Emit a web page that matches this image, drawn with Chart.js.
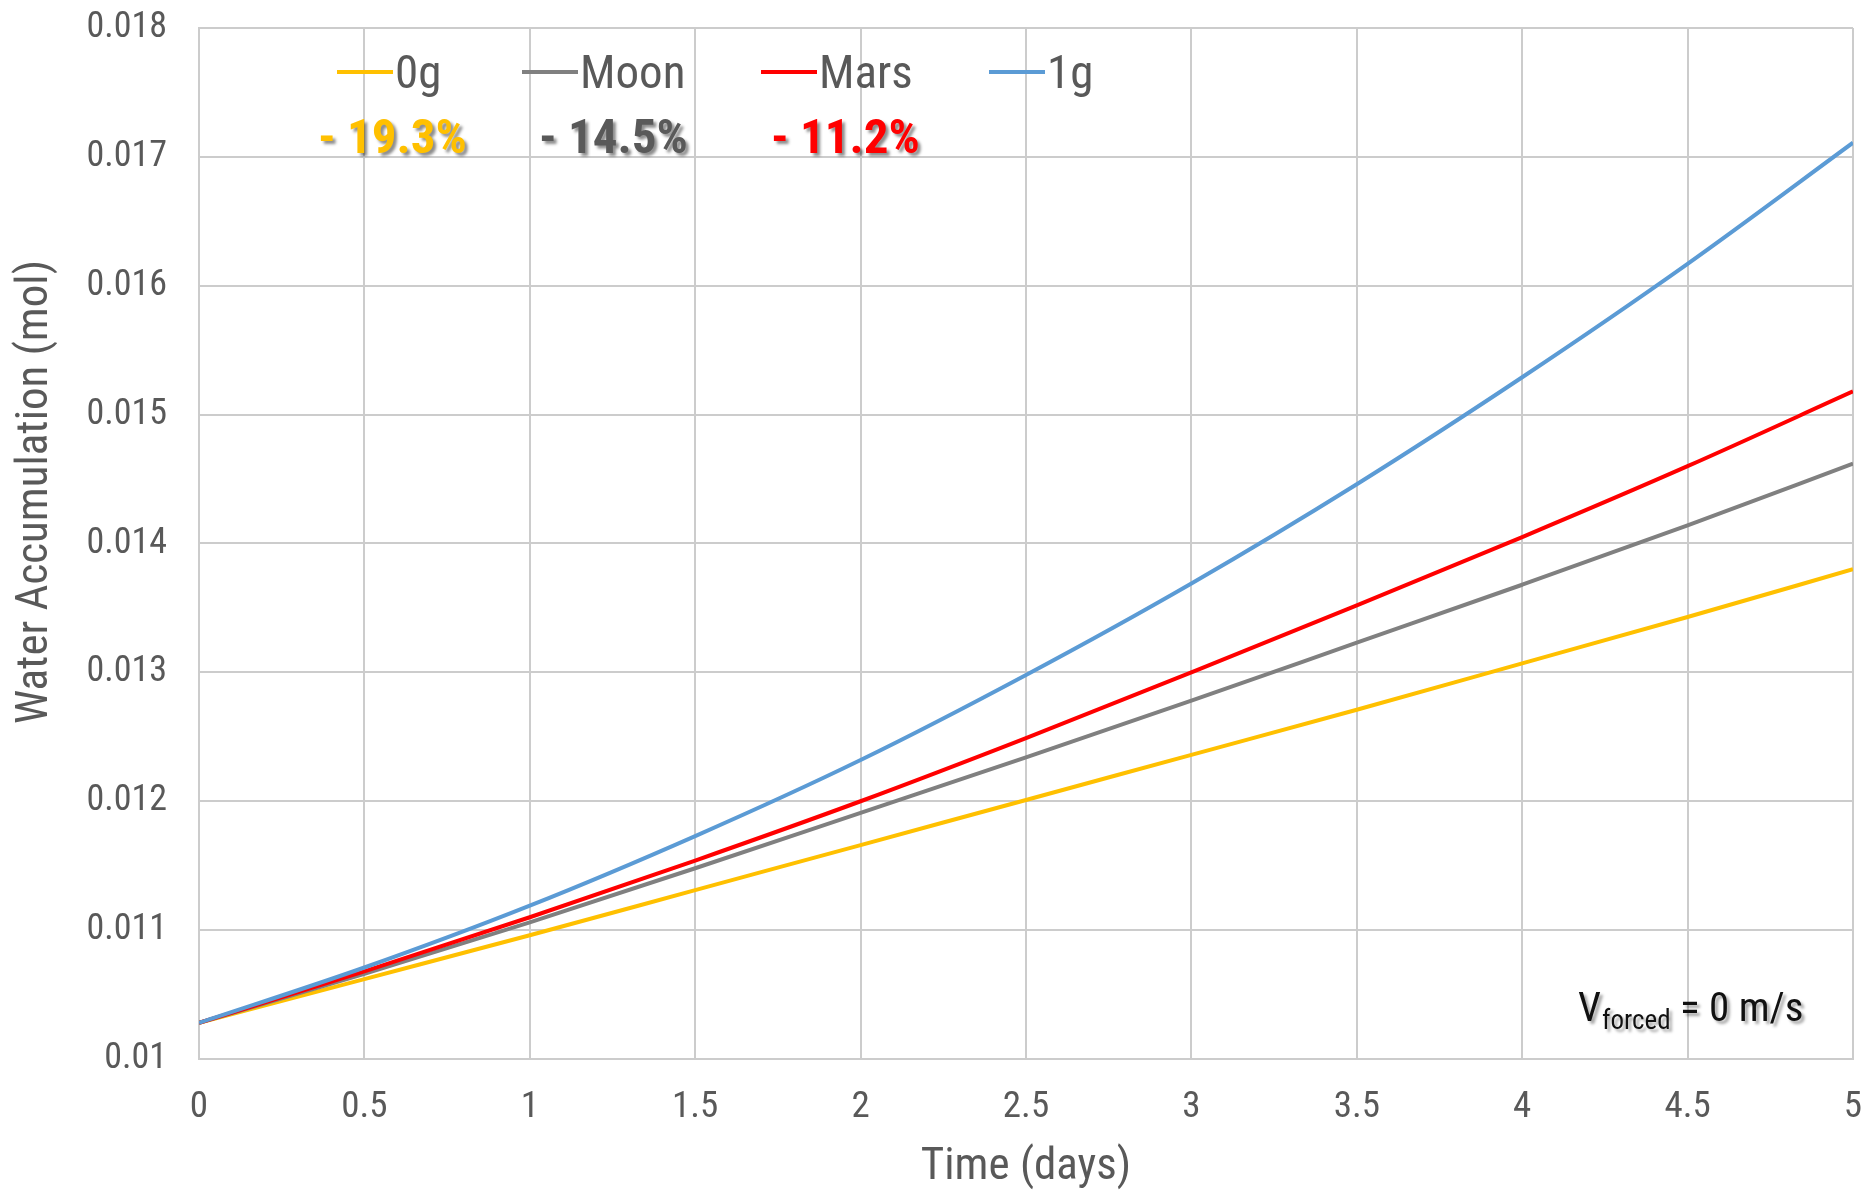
<!DOCTYPE html>
<html><head><meta charset="utf-8">
<script src="https://cdn.jsdelivr.net/npm/chart.js@4.4.0/dist/chart.umd.min.js"></script>
<style>html,body{margin:0;padding:0;background:#fff;}#wrap{width:1872px;height:1191px;position:relative}</style>
</head><body><div id="wrap"><canvas id="c" width="1872" height="1191"></canvas></div>
<script>
// ---- data ----
const days = [0, 0.5, 1, 1.5, 2, 2.5, 3, 3.5, 4, 4.5, 5];
const zeroG = [0.01028, 0.01062, 0.01096, 0.01131, 0.01166, 0.01201, 0.01236, 0.01271, 0.01307, 0.01343, 0.01380];
const moon  = [0.01028, 0.01066, 0.01106, 0.01148, 0.01191, 0.01234, 0.01278, 0.01323, 0.01368, 0.01414, 0.01462];
const mars  = [0.01028, 0.01068, 0.01110, 0.01154, 0.01200, 0.01249, 0.01300, 0.01352, 0.01405, 0.01460, 0.01518];
const oneG  = [0.01028, 0.01071, 0.01119, 0.01173, 0.01232, 0.01298, 0.01369, 0.01446, 0.01529, 0.01617, 0.01711];
const seriesNames = ['0g', 'Moon', 'Mars', '1g'];
const seriesColors = ['#FFC000', '#808080', '#FF0000', '#5B9BD5'];
const reductionLabels = ['- 19.3%', '- 14.5%', '- 11.2%'];
const reductionColors = ['#FFC000', '#595959', '#FF0000'];
const xTickValues = [0, 0.5, 1, 1.5, 2, 2.5, 3, 3.5, 4, 4.5, 5];
const xTickLabels = ['0', '0.5', '1', '1.5', '2', '2.5', '3', '3.5', '4', '4.5', '5'];
const yTickValues = [0.010, 0.011, 0.012, 0.013, 0.014, 0.015, 0.016, 0.017, 0.018];
const yTickLabels = ['0.01', '0.011', '0.012', '0.013', '0.014', '0.015', '0.016', '0.017', '0.018'];
const xTitle = 'Time (days)';
const yTitle = 'Water Accumulation (mol)';

const FONT = '"Roboto Condensed","Liberation Sans Narrow","DejaVu Sans Condensed",sans-serif';
const TXT = '#595959';
const GRID = '#cccccc';

const allSeries = [zeroG, moon, mars, oneG];
const datasets = allSeries.map((vals, i) => ({
  label: seriesNames[i],
  data: days.map((d, k) => ({x: d, y: vals[k]})),
  borderColor: seriesColors[i],
  backgroundColor: seriesColors[i],
  borderWidth: 4,
  pointRadius: 0,
  cubicInterpolationMode: 'monotone',
  order: 3 - i
}));

const overlay = {
  id: 'overlay',
  afterDraw(chart) {
    const ctx = chart.ctx;
    ctx.save();
    // y-axis title
    ctx.save();
    ctx.translate(36, 492);
    ctx.rotate(-Math.PI / 2);
    ctx.font = '45px ' + FONT;
    ctx.fillStyle = TXT;
    ctx.textAlign = 'center';
    ctx.textBaseline = 'middle';
    ctx.fillText(yTitle, 0, 0);
    ctx.restore();
    // legend
    ctx.font = '47px ' + FONT;
    ctx.textBaseline = 'alphabetic';
    ctx.textAlign = 'left';
    const lx = [337, 522, 761, 989];
    for (let i = 0; i < seriesNames.length; i++) {
      ctx.strokeStyle = seriesColors[i];
      ctx.lineWidth = 4;
      ctx.beginPath(); ctx.moveTo(lx[i], 72); ctx.lineTo(lx[i] + 56, 72); ctx.stroke();
      ctx.fillStyle = TXT;
      ctx.fillText(seriesNames[i], lx[i] + 58, 88);
    }
    // reduction labels
    const rx = [318, 539, 771];
    ctx.font = 'bold 49px ' + FONT;
    ctx.shadowColor = 'rgba(0,0,0,0.45)';
    ctx.shadowOffsetX = 3; ctx.shadowOffsetY = 3; ctx.shadowBlur = 3;
    for (let i = 0; i < reductionLabels.length; i++) {
      ctx.fillStyle = reductionColors[i];
      ctx.fillText(reductionLabels[i], rx[i], 153);
    }
    // annotation
    ctx.fillStyle = '#111111';
    ctx.shadowColor = 'rgba(0,0,0,0.35)';
    ctx.font = '41px ' + FONT;
    let ax = 1578;
    ctx.fillText('V', ax, 1021);
    ax += ctx.measureText('V').width + 1;
    ctx.font = '27px ' + FONT;
    ctx.fillText('forced', ax, 1029);
    ax += ctx.measureText('forced').width;
    ctx.font = '41px ' + FONT;
    ctx.fillText(' = 0 m/s', ax, 1021);
    ctx.restore();
  }
};

new Chart(document.getElementById('c'), {
  type: 'line',
  data: {datasets},
  plugins: [overlay],
  options: {
    responsive: false,
    animation: false,
    events: [],
    layout: {padding: {left: 0, right: 19, top: 28, bottom: 0}},
    plugins: {legend: {display: false}, tooltip: {enabled: false}},
    scales: {
      x: {
        type: 'linear', min: 0, max: 5,
        afterFit(s) { s.height = 132; s.paddingLeft = 0; s.paddingRight = 0; },
        afterBuildTicks(s) { s.ticks = xTickValues.map(v => ({value: v})); },
        ticks: {
          color: TXT, font: {family: FONT, size: 37}, padding: 27, maxRotation: 0, autoSkip: false,
          callback: (v) => xTickLabels[xTickValues.indexOf(v)]
        },
        grid: {color: GRID, lineWidth: 2, drawTicks: false},
        border: {display: true, color: GRID, width: 2},
        title: {display: true, text: xTitle, color: TXT, font: {family: FONT, size: 45, lineHeight: 1.05}, padding: {top: 0, bottom: 0}}
      },
      y: {
        type: 'linear', min: 0.01, max: 0.018,
        afterFit(s) { s.width = 199; s.paddingTop = 0; s.paddingBottom = 0; },
        afterBuildTicks(s) { s.ticks = yTickValues.map(v => ({value: v})); },
        ticks: {
          color: TXT, font: {family: FONT, size: 36}, padding: 32, autoSkip: false,
          callback: (v) => { const k = yTickValues.findIndex(t => Math.abs(t - v) < 1e-9); return k >= 0 ? yTickLabels[k] : ''; }
        },
        grid: {color: GRID, lineWidth: 2, drawTicks: false},
        border: {display: true, color: GRID, width: 2},
        title: {display: false}
      }
    }
  }
});
</script></body></html>
